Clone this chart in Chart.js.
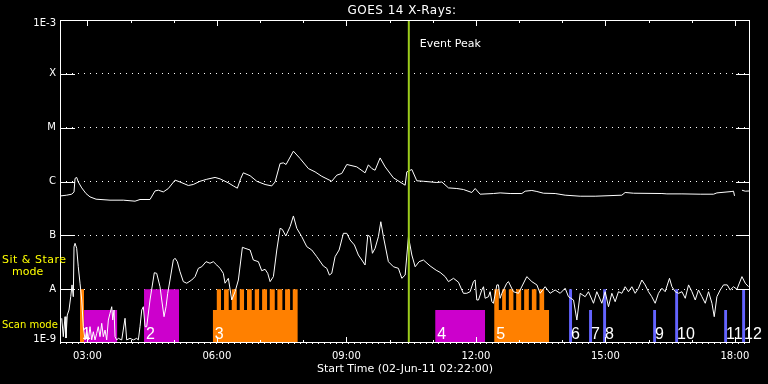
<!DOCTYPE html>
<html><head><meta charset="utf-8">
<script src="https://cdn.jsdelivr.net/npm/chart.js@4/dist/chart.umd.min.js"></script>
<style>html,body{margin:0;padding:0;background:#000;}canvas{display:block;background:#000;}</style>
</head><body>
<canvas id="c" width="768" height="384"></canvas>
<script>
// Times are minutes after the start time 02-Jun-11 02:22:00
const longTime = [1.4,9.3,16.3,19.5,20.9,23.2,25.4,30.2,36.1,41.7,50.1,69.5,88.0,104.3,111.2,125.1,132.1,136.7,143.6,150.6,159.9,166.8,178.4,185.3,194.6,204.0,215.5,222.4,234.0,240.9,246.5,251.2,254.8,264.2,273.5,285.0,294.3,298.9,305.9,310.5,314.2,324.4,333.7,345.2,354.5,363.8,377.7,384.7,391.6,398.6,412.5,424.0,428.6,433.4,437.9,444.9,451.9,463.4,479.7,482.0,489.0,495.9,505.1,523.7,530.7,539.9,551.5,560.7,572.4,577.0,583.9,602.4,611.7,625.6,641.9,646.5,655.8,662.8,671.9,688.2,702.1,723.0,743.8,780.9,785.5,797.1,836.6,843.5,864.4,889.8,908.3,913.0,933.9,936.1,937.5,940.0,947.8,952.4,959.3];
const longFlux = [5.41e-7,5.57e-7,5.81e-7,6.41e-7,1.14e-6,1.19e-6,9.8e-7,7.61e-7,5.98e-7,5.18e-7,4.69e-7,4.50e-7,4.50e-7,4.31e-7,4.63e-7,4.63e-7,6.68e-7,6.89e-7,6.41e-7,7.41e-7,1.06e-6,9.8e-7,8.43e-7,8.80e-7,1.01e-6,1.10e-6,1.19e-6,1.12e-6,9.42e-7,8.28e-7,7.51e-7,1.14e-6,1.45e-6,1.28e-6,1.01e-6,8.80e-7,8.28e-7,9.8e-7,2.16e-6,2.22e-6,2.07e-6,3.66e-6,2.67e-6,1.74e-6,1.51e-6,1.25e-6,1.01e-6,1.31e-6,1.41e-6,2.07e-6,1.87e-6,1.45e-6,2.04e-6,1.74e-6,1.62e-6,2.74e-6,1.87e-6,1.17e-6,8.53e-7,1.51e-6,1.67e-6,1.03e-6,1.01e-6,9.57e-7,9.8e-7,7.61e-7,7.41e-7,7.10e-7,6.25e-7,7.41e-7,5.81e-7,5.98e-7,6.14e-7,5.98e-7,5.98e-7,6.61e-7,6.81e-7,6.52e-7,6.06e-7,5.98e-7,5.57e-7,5.33e-7,5.33e-7,5.57e-7,6.25e-7,6.06e-7,5.98e-7,5.89e-7,5.89e-7,5.81e-7,5.81e-7,6.14e-7,6.52e-7,6.61e-7,5.41e-7,null,6.89e-7,6.61e-7,6.68e-7];
const shortTime = [2.4,4.6,7.0,8.3,10.1,12.5,14.9,16.7,18.5,19.5,20.9,23.2,25.4,27.8,30.2,32.4,34.8,37.1,39.3,41.7,44.1,46.3,48.7,51.0,53.2,55.6,58.0,60.2,62.6,64.9,67.2,69.5,71.9,73.3,75.1,76.5,78.8,81.1,85.8,90.4,92.7,97.3,101.9,106.6,108.9,111.2,113.6,115.8,118.2,120.5,125.1,131.1,134.4,139.0,141.4,144.6,147.4,149.7,152.9,157.5,159.9,163.1,166.8,171.4,176.2,183.1,187.7,192.3,197.0,203.0,208.5,213.1,217.9,222.4,227.0,229.4,234.0,238.7,243.3,247.9,253.5,257.2,264.2,268.7,275.7,280.4,285.0,288.7,292.0,296.6,301.3,305.9,309.0,313.8,319.8,324.4,329.1,336.0,343.0,349.9,356.9,366.0,370.8,374.4,377.7,382.3,387.9,393.9,398.6,403.2,409.2,414.7,419.5,424.0,427.8,431.0,434.2,437.9,442.5,445.9,449.5,456.4,463.4,470.3,475.1,479.7,484.3,489.0,493.6,499.1,505.1,514.4,522.8,528.3,535.3,539.9,546.9,553.8,558.5,560.7,565.4,570.0,574.6,577.0,579.3,581.6,586.3,588.6,590.9,595.5,597.8,600.2,602.4,607.2,609.4,611.7,614.1,621.0,623.3,630.2,637.2,648.8,655.8,662.8,667.3,674.3,681.2,688.2,695.2,702.1,706.7,713.7,718.4,723.0,729.9,734.5,741.5,746.1,753.1,757.7,762.3,767.0,771.6,776.2,780.9,785.5,790.1,794.8,799.4,804.0,808.7,813.3,817.9,822.5,827.2,831.8,836.6,841.1,847.1,850.5,855.1,859.7,864.4,869.0,873.6,878.3,882.9,887.4,892.2,896.8,901.4,906.1,909.3,913.0,917.6,922.2,927.4,931.5,936.1,940.8,947.8,952.4,957.0];
const shortFlux = [2.88e-9,1.31e-9,3.08e-9,1.24e-9,3.31e-9,4.10e-9,7.24e-9,1.20e-8,7.24e-9,6.15e-8,7.11e-8,5.74e-8,2.61e-8,1.29e-8,6.29e-9,2.01e-9,1.14e-9,1.74e-9,1.14e-9,2.01e-9,1.14e-9,1.62e-9,1.14e-9,1.51e-9,2.01e-9,1.31e-9,2.32e-9,1.31e-9,1.74e-9,1.14e-9,2.67e-9,3.56e-9,4.72e-9,2.67e-9,4.10e-9,1.31e-9,1.14e-9,1.22e-9,1.14e-9,2.88e-9,1.14e-9,1.22e-9,1.14e-9,1.22e-9,1.14e-9,2.01e-9,4.10e-9,4.72e-9,2.01e-9,2.01e-9,6.29e-9,2.02e-8,1.97e-8,1.11e-8,6.29e-9,3.08e-9,4.72e-9,8.38e-9,1.48e-8,3.48e-8,3.75e-8,3.24e-8,2.11e-8,1.38e-8,1.29e-8,1.48e-8,1.71e-8,2.44e-8,2.61e-8,3.24e-8,3.03e-8,3.24e-8,2.81e-8,2.44e-8,1.97e-8,1.29e-8,1.59e-8,6.29e-9,8.97e-9,1.48e-8,6.00e-8,5.74e-8,5.34e-8,3.48e-8,3.24e-8,2.20e-8,2.34e-8,1.97e-8,1.38e-8,1.71e-8,5.34e-8,1.35e-7,1.29e-7,9.72e-8,1.45e-7,2.29e-7,1.35e-7,9.44e-8,6.15e-8,5.34e-8,4.01e-8,2.69e-8,2.44e-8,1.83e-8,1.97e-8,4.01e-8,5.34e-8,1.09e-7,1.09e-7,8.19e-8,6.62e-8,4.31e-8,3.48e-8,2.81e-8,1.01e-7,9.44e-8,4.64e-8,5.74e-8,9.44e-8,1.79e-7,9.44e-8,3.24e-8,2.61e-8,2.44e-8,1.59e-8,1.83e-8,9.44e-8,4.31e-8,2.61e-8,3.24e-8,3.48e-8,2.70e-8,2.25e-8,2.05e-8,1.71e-8,1.38e-8,1.59e-8,1.35e-8,9.65e-9,8.38e-9,8.38e-9,8.97e-9,1.38e-8,1.48e-8,6.29e-9,6.29e-9,9.65e-9,1.11e-8,6.77e-9,7.24e-9,8.97e-9,5.85e-9,5.47e-9,1.20e-8,1.20e-8,6.77e-9,8.38e-9,1.29e-8,1.38e-8,8.97e-9,8.38e-9,1.71e-8,1.38e-8,1.20e-8,8.38e-9,1.11e-8,8.38e-9,9.65e-9,8.38e-9,1.04e-8,7.24e-9,6.29e-9,2.67e-9,8.38e-9,7.24e-9,8.97e-9,5.47e-9,8.97e-9,5.47e-9,8.97e-9,4.72e-9,8.38e-9,5.85e-9,8.97e-9,8.38e-9,1.11e-8,8.97e-9,1.11e-8,8.38e-9,1.04e-8,1.48e-8,1.20e-8,8.97e-9,7.24e-9,5.47e-9,8.38e-9,1.04e-8,8.97e-9,1.59e-8,1.11e-8,8.97e-9,8.38e-9,8.97e-9,6.77e-9,1.20e-8,8.97e-9,6.29e-9,9.65e-9,7.24e-9,5.47e-9,8.97e-9,5.47e-9,3.08e-9,7.24e-9,9.65e-9,1.20e-8,1.20e-8,9.65e-9,1.11e-8,9.94e-9,1.71e-8,1.29e-8,1.11e-8];

const yTickValues = [1e-9,1e-8,1e-7,1e-6,1e-5,1e-4,1e-3];
const yTickLabels = ['1E-9','A','B','C','M','X','1E-3'];
const xTickMinutes = [38,98,158,218,278,338,398,458,518,578,638,698,758,818,878,938];
const xTickLabels = ['03:00','','','06:00','','','09:00','','','12:00','','','15:00','','','18:00'];
const xMax = 959;
const peakTime = 484.8;

// Observation windows (minutes after start)
const stareLevel = 1e-8;
const scanLevel = 4.1e-9;
const boxStart = [27.8,33.4,116.8,212.3,521.4,603.4,707.5,735.3,754.8,824.3,854.9,923.0,948.0];
const boxEnd   = [33.4,79.7,165.4,330.5,590.9,679.9,711.8,739.6,759.2,828.6,859.3,927.3,952.4];
const boxMode  = ['stare','scan','stare','scan','scan','scan','stare','scan','stare','scan','stare','scan','stare'];
const boxKind  = ['o','m','m','o','m','o','b','b','b','b','b','b','b'];
const boxLabel = ['1','','2','3','4','5','6','7','8','9','10','11','12'];
// sit & stare pulses inside scan windows 3 and 5
const pulses3Start = [217.9,228.0,238.7,249.8,259.9,270.7,280.9,291.5,302.1,312.8,323.5];
const pulses3End   = [223.8,234.5,245.7,255.8,266.5,276.7,287.8,298.5,309.1,319.8,330.5];
const pulses5Start = [603.4,614.5,623.8,634.0,645.1,655.8,666.4];
const pulses5End   = [609.9,619.7,630.2,641.0,651.6,662.2,672.9];

const kindColor = {o:'#ff8000', m:'#cc00cc', b:'#6464ff'};
const FLOOR = 1e-9;

function boxPolygon(i){
  const top = boxMode[i]==='stare' ? stareLevel : scanLevel;
  const pts = [{x:boxStart[i],y:FLOOR},{x:boxStart[i],y:top}];
  let ps=null, pe=null;
  if(i===3){ps=pulses3Start;pe=pulses3End;}
  if(i===5){ps=pulses5Start;pe=pulses5End;}
  if(ps){
    for(let k=0;k<ps.length;k++){
      pts.push({x:ps[k],y:top},{x:ps[k],y:stareLevel},{x:pe[k],y:stareLevel},{x:pe[k],y:top});
    }
  }
  pts.push({x:boxEnd[i],y:top},{x:boxEnd[i],y:FLOOR});
  return pts;
}

const datasets = [];
datasets.push({data:[{x:peakTime,y:1e-9},{x:peakTime,y:1e-3}], borderColor:'#9ccc1c', borderWidth:2, pointRadius:0, fill:false});
datasets.push({data:longTime.map((t,i)=>({x:t,y:longFlux[i]})), borderColor:'#fff', borderWidth:1, pointRadius:0, tension:0, spanGaps:false, fill:false});
datasets.push({data:shortTime.map((t,i)=>({x:t,y:shortFlux[i]})), borderColor:'#fff', borderWidth:1, pointRadius:0, tension:0, fill:false});
for(let i=0;i<boxStart.length;i++){
  datasets.push({data:boxPolygon(i), borderWidth:0, borderColor:'rgba(0,0,0,0)', backgroundColor:kindColor[boxKind[i]], pointRadius:0, tension:0, fill:'start'});
}

const overlay = {
  id:'overlay',
  afterDraw(chart){
    const {ctx, chartArea:a, scales} = chart;
    const x = scales.x, y = scales.y;
    ctx.save();
    ctx.strokeStyle='#fff'; ctx.lineWidth=1;
    ctx.strokeRect(a.left+0.5, a.top+0.5, a.right-a.left-1, a.bottom-a.top-1);
    ctx.beginPath();
    xTickMinutes.forEach((v,i)=>{
      const px = Math.round(x.getPixelForValue(v))+0.5;
      const len = xTickLabels[i] ? 6 : 3;
      ctx.moveTo(px,a.top); ctx.lineTo(px,a.top+len);
      ctx.moveTo(px,a.bottom); ctx.lineTo(px,a.bottom-len);
    });
    yTickValues.slice(1,-1).forEach(v=>{
      const py = Math.round(y.getPixelForValue(v))+0.5;
      ctx.moveTo(a.left,py); ctx.lineTo(a.left+15,py);
      ctx.moveTo(a.right-14,py); ctx.lineTo(a.right,py);
    });
    ctx.stroke();
    // y tick labels, kept inside the axis span at both ends
    ctx.fillStyle='#fff';
    ctx.font='10px "DejaVu Sans"';
    ctx.textAlign='right';
    ctx.textBaseline='middle';
    yTickValues.forEach((v,i)=>{
      let py = y.getPixelForValue(v);
      py = Math.min(Math.max(py, a.top+3.5), a.bottom-3.5);
      ctx.fillText(yTickLabels[i], a.left-4, py);
    });
    // texts
    ctx.textBaseline='alphabetic';
    ctx.font='12px "DejaVu Sans"';
    ctx.textAlign='center';
    ctx.letterSpacing='0.5px';
    ctx.fillText('GOES 14 X-Rays:', (a.left+a.right)/2-3, 14);
    ctx.letterSpacing='0px';
    ctx.font='11px "DejaVu Sans"';
    ctx.fillText('Start Time (02-Jun-11 02:22:00)', (a.left+a.right)/2, 372);
    ctx.textAlign='left';
    ctx.fillText('Event Peak', x.getPixelForValue(peakTime)+11, 47);
    ctx.fillStyle='#ffff00';
    ctx.letterSpacing='0.5px';
    ctx.fillText('Sit & Stare', 2, 263);
    ctx.letterSpacing='0px';
    ctx.fillText('mode', 12, 275);
    ctx.font='10px "DejaVu Sans"';
    ctx.fillText('Scan mode', 2, 328);
    ctx.fillStyle='#fff';
    ctx.font='16px "Liberation Sans"';
    boxLabel.forEach((s,i)=>{
      if(!s) return;
      ctx.fillText(s, x.getPixelForValue(boxStart[i])+2, 339);
    });
    ctx.restore();
  }
};

Chart.defaults.font.family = '"DejaVu Sans"';
Chart.defaults.font.size = 10;
Chart.defaults.color = '#fff';

new Chart(document.getElementById('c'), {
  type:'line',
  data:{datasets},
  options:{
    responsive:false, animation:false, devicePixelRatio:1,
    layout:{padding:{top:20,right:18,left:0,bottom:0}},
    plugins:{legend:{display:false}, tooltip:{enabled:false}, title:{display:false}},
    scales:{
      x:{type:'linear', min:0, max:xMax,
        afterBuildTicks(s){ s.ticks = xTickMinutes.map(v=>({value:v})); },
        afterFit(s){ s.height = 41; },
        grid:{display:false, drawTicks:false},
        border:{display:false},
        ticks:{autoSkip:false, maxRotation:0, minRotation:0, padding:7, color:'#fff', font:{size:10},
          callback:(v,i)=>xTickLabels[i]}
      },
      y:{type:'logarithmic', min:1e-9, max:1e-3,
        afterBuildTicks(s){ s.ticks = yTickValues.map(v=>({value:v})); },
        afterFit(s){ s.width = 60; },
        grid:{display:true, drawTicks:false, color:'#fff', lineWidth:1},
        border:{display:false, dash:[1,5]},
        ticks:{display:false}
      }
    }
  },
  plugins:[overlay]
});
</script>
</body></html>
